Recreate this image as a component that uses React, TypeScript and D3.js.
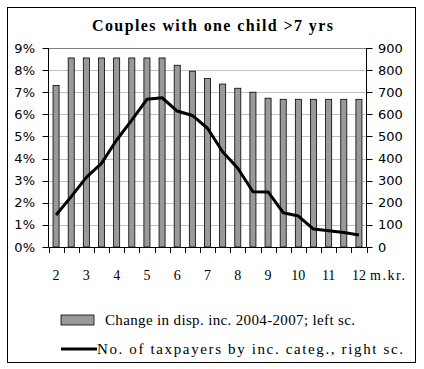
import React from 'react';
import * as d3 from 'd3';

// income categories (m.kr.), every half million
const categories = ['2', '2.5', '3', '3.5', '4', '4.5', '5', '5.5', '6', '6.5', '7', '7.5', '8', '8.5', '9', '9.5', '10', '10.5', '11', '11.5', '12'];
// change in disposable income 2004-2007, left scale (%)
const changeValues = [7.3, 8.55, 8.55, 8.55, 8.55, 8.55, 8.55, 8.55, 8.22, 7.95, 7.62, 7.37, 7.18, 7.0, 6.73, 6.68, 6.68, 6.68, 6.68, 6.68, 6.68];
// number of taxpayers by income category, right scale
const taxpayers = [145, 228, 315, 378, 484, 574, 668, 675, 615, 595, 537, 431, 356, 250, 249, 155, 140, 81, 74, 66, 54];
const leftTicks = [0, 1, 2, 3, 4, 5, 6, 7, 8, 9];
const rightTicks = [0, 100, 200, 300, 400, 500, 600, 700, 800, 900];

const W = 424, H = 369;
const plot = { left: 48.5, right: 366.5, top: 48, bottom: 247 };
const serif = '"Liberation Serif", "DejaVu Serif", serif';
const sans = '"DejaVu Sans", "Liberation Sans", sans-serif';

const App = () => {
  const x = d3.scaleBand().domain(categories).range([plot.left, plot.right]).paddingInner(0.6).paddingOuter(0.3);
  const yL = d3.scaleLinear().domain([0, 9]).range([plot.bottom, plot.top]);
  const yR = d3.scaleLinear().domain([0, 900]).range([plot.bottom, plot.top]);
  const cx = (c) => x(c) + x.bandwidth() / 2;
  const line = d3.line().x((d, i) => cx(categories[i])).y(d => yR(d));
  const boundaries = d3.range(categories.length + 1).map(i => plot.left + i * (plot.right - plot.left) / categories.length);

  return (
    <svg xmlns="http://www.w3.org/2000/svg" width={W} height={H}
      style={{ position: 'absolute', left: 0, top: 0, background: '#fff' }}>
      <rect x={7.5} y={7.5} width={408} height={355} fill="#fff" stroke="#000" strokeWidth={1} />
      <text x={92} y={31} textLength={241} lengthAdjust="spacing" fontFamily={serif} fontWeight="bold" fontSize={16}>
        Couples with one child  {'>'}7 yrs
      </text>

      {/* gridlines */}
      {leftTicks.map(t => (
        <line key={t} x1={plot.left} x2={plot.right} y1={Math.round(yL(t)) + 0.5} y2={Math.round(yL(t)) + 0.5}
          stroke={t === 9 ? '#808080' : '#c0c0c0'} strokeWidth={1} />
      ))}

      {/* bars */}
      {changeValues.map((v, i) => (
        <rect key={i} x={x(categories[i])} y={yL(v)} width={x.bandwidth()} height={plot.bottom - yL(v)}
          fill="#999999" stroke="#000" strokeWidth={0.8} />
      ))}

      {/* axes */}
      <line x1={plot.left} x2={plot.left} y1={plot.top} y2={plot.bottom} stroke="#000" />
      <line x1={plot.right} x2={plot.right} y1={plot.top} y2={plot.bottom} stroke="#000" />
      <line x1={plot.left} x2={plot.right} y1={plot.bottom + 0.5} y2={plot.bottom + 0.5} stroke="#000" />
      {leftTicks.map(t => (
        <g key={'l' + t}>
          <line x1={plot.left - 6} x2={plot.left} y1={Math.round(yL(t)) + 0.5} y2={Math.round(yL(t)) + 0.5} stroke="#000" />
          <text x={35} y={yL(t) + 4.5} textAnchor="end" fontFamily={sans} fontSize={13}>{t}%</text>
        </g>
      ))}
      {rightTicks.map(t => (
        <g key={'r' + t}>
          <line x1={plot.right} x2={plot.right + 6} y1={Math.round(yR(t)) + 0.5} y2={Math.round(yR(t)) + 0.5} stroke="#000" />
          <text x={378} y={yR(t) + 4.5} textAnchor="start" fontFamily={sans} fontSize={13}>{t}</text>
        </g>
      ))}
      {boundaries.map((b, i) => (
        <line key={'b' + i} x1={Math.round(b) + 0.5} x2={Math.round(b) + 0.5} y1={plot.bottom} y2={plot.bottom + 6} stroke="#000" />
      ))}
      {categories.filter(c => !c.includes('.')).map(c => (
        <text key={'x' + c} x={cx(c)} y={280} textAnchor="middle" fontFamily={serif} fontSize={14}>{c}</text>
      ))}
      <text x={370} y={280} textLength={35} lengthAdjust="spacing" fontFamily={serif} fontSize={14}>m.kr.</text>

      {/* line series */}
      <path d={line(taxpayers)} fill="none" stroke="#000" strokeWidth={3} strokeLinejoin="round" />

      {/* legend */}
      <rect x={61} y={315} width={33} height={10} fill="#999999" stroke="#000" strokeWidth={0.8} />
      <text x={105} y={325} textLength={250} lengthAdjust="spacing" fontFamily={serif} fontSize={15}>Change in disp. inc. 2004-2007; left sc.</text>
      <line x1={61} x2={97} y1={349} y2={349} stroke="#000" strokeWidth={3} />
      <text x={97} y={354} textLength={306} lengthAdjust="spacing" fontFamily={serif} fontSize={15}>No. of taxpayers by inc. categ., right sc.</text>
    </svg>
  );
};

export default App;
